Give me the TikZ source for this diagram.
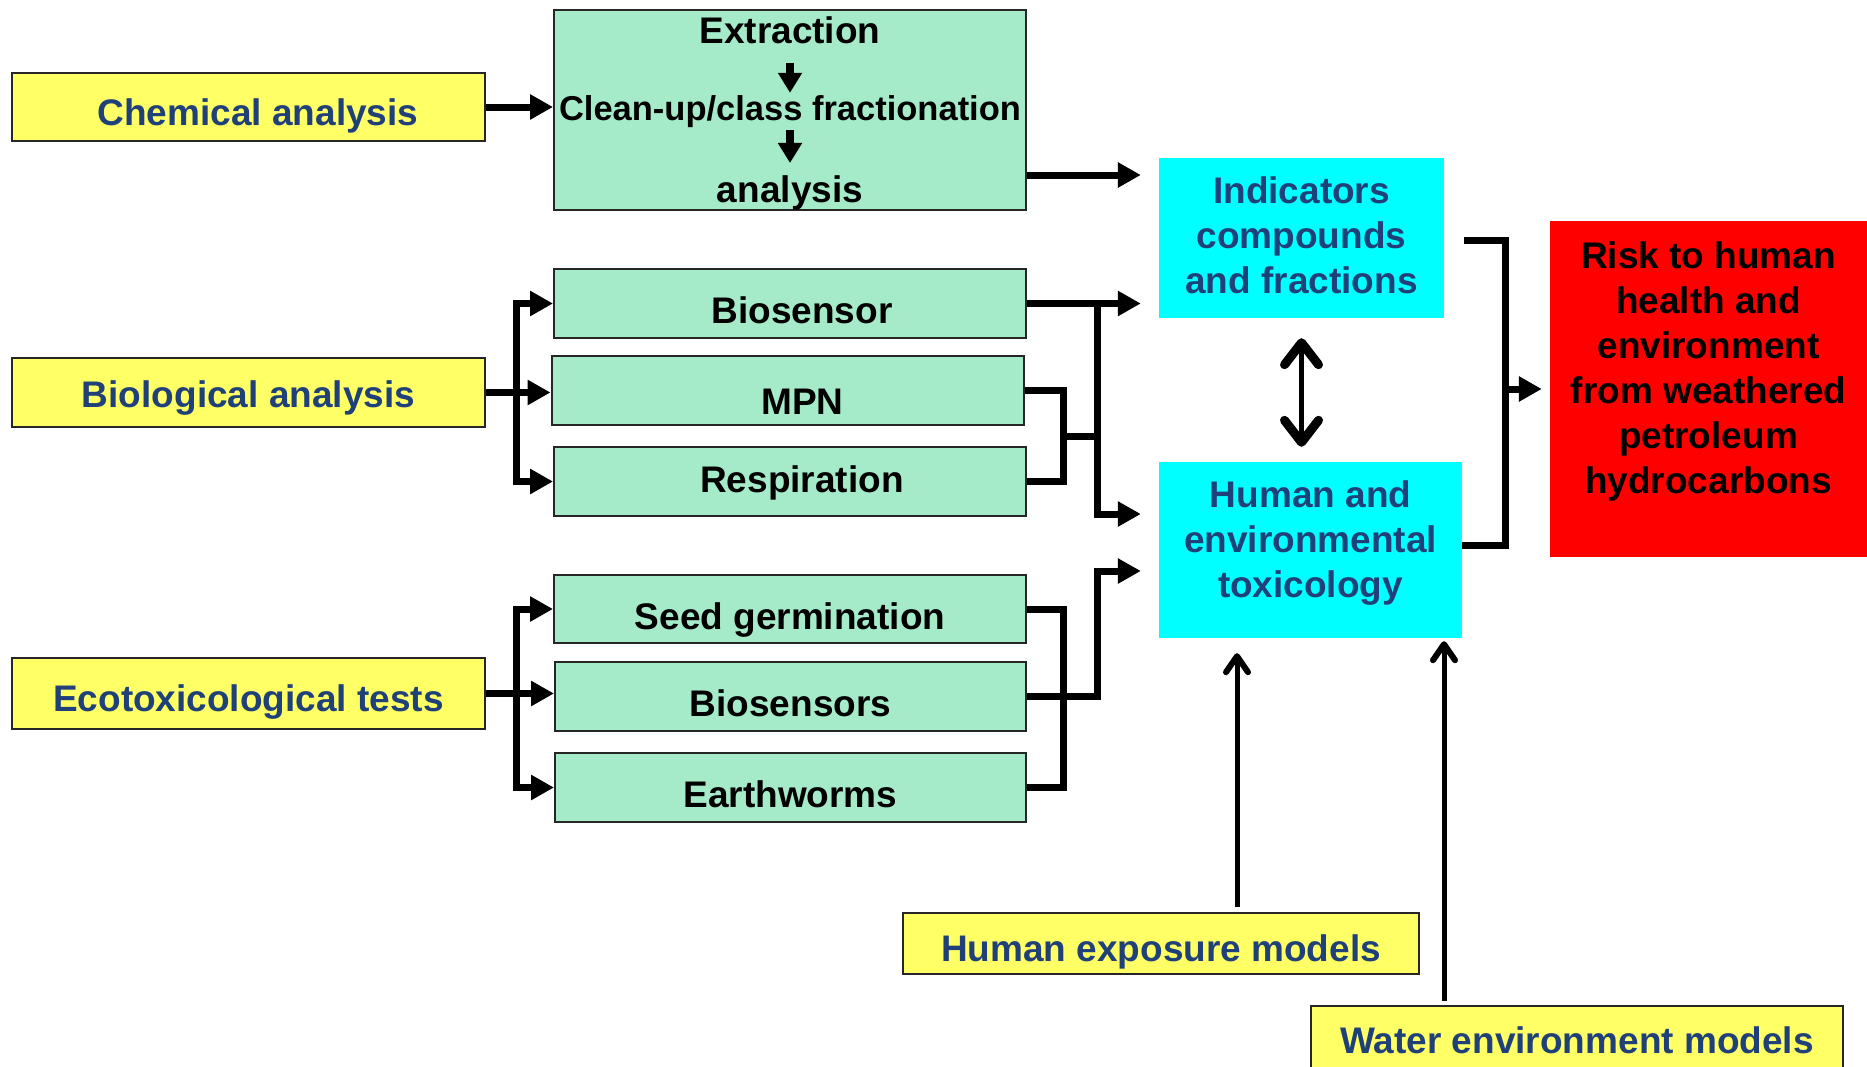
\documentclass[tikz,border=0pt]{standalone}
\usepackage{fontspec}
\setmainfont{Liberation Sans}
\usetikzlibrary{arrows.meta}
\definecolor{navy}{RGB}{31,64,120}
\definecolor{mint}{RGB}{166,235,201}
\definecolor{pale}{RGB}{255,255,102}
\definecolor{aqua}{RGB}{0,255,255}
\definecolor{alarm}{RGB}{255,0,0}

\begin{document}
\begin{tikzpicture}[x=1pt,y=-1pt,
  font=\bfseries\fontsize{37}{45}\selectfont,
  yellowbox/.style={draw=black!85, line width=2pt, fill=pale, text=navy,
    minimum width=473pt, inner sep=0pt, text height=36pt, text depth=0pt},
  greenbox/.style={draw=black!85, line width=2pt, fill=mint, minimum width=472pt,
    minimum height=69pt, inner sep=0pt, text height=40pt, text depth=0pt},
  cyanbox/.style={fill=aqua, text=navy, align=center, inner sep=0pt},
  steptext/.style={font=\bfseries\fontsize{37}{40}\selectfont, inner sep=0pt, anchor=base},
  flow/.style={line width=7pt, miter limit=10},
  arr/.style={flow, -{Triangle[length=23pt,width=24pt]}},
  smallarr/.style={line width=8pt, -{Triangle[length=20pt,width=23pt]}},
  dblarr/.style={line width=5pt,
    {Straight Barb[length=22pt,width=34pt,line width=9pt,round]}-{Straight Barb[length=22pt,width=34pt,line width=9pt,round]}},
  thinarr/.style={line width=5pt, -{Straight Barb[length=16pt,width=22pt,line width=6pt,round]}},
]
\useasboundingbox (0,0) rectangle (1867,1066);

% input boxes
\node[yellowbox, minimum height=68pt] (chem) at (248.5,107) {\hspace*{19pt}Chemical analysis};
\node[yellowbox, minimum height=69pt, text height=30pt] (bio) at (248.5,392.5) {Biological analysis};
\node[yellowbox, minimum height=71pt] (eco) at (248.5,693.5) {Ecotoxicological tests};

% chemical chain
\node[greenbox, minimum height=200pt] (chain) at (790,110) {};
\node[steptext] (extr) at (790,43) {Extraction};
\node[steptext, font=\bfseries\fontsize{34.5}{40}\selectfont] (clean) at (790,120) {Clean-up/class fractionation};
\node[steptext] (anl) at (790,202) {analysis};
\draw[smallarr, shorten <=19pt, shorten >=2pt] (extr) -- (clean);
\draw[smallarr, shorten <=3pt, shorten >=12pt] (clean) -- (anl);

% biological and ecotoxicological methods
\node[greenbox] (biosensor) at (790,303.5) {\hspace*{24pt}Biosensor};
\node[greenbox, text height=48pt] (mpn) at (787.5,390.5) {\hspace*{30pt}MPN};
\node[greenbox, text height=22pt] (resp) at (790,481.5) {\hspace*{24pt}Respiration};
\node[greenbox, minimum height=68pt] (seed) at (790,609) {Seed germination};
\node[greenbox, minimum width=471pt] (bsens) at (790.5,696.5) {Biosensors};
\node[greenbox, minimum width=471pt] (worms) at (790.5,787.5) {Earthworms};

% assessment boxes
\node[cyanbox, minimum width=285pt, minimum height=160pt] (ind) at (1301.5,238) {};
\node[text=navy, align=center, inner sep=0pt] (indtext) at ([yshift=2.5pt]ind.center)
  {Indicators\\compounds\\and fractions};
\node[cyanbox, minimum width=303pt, minimum height=176pt] (tox) at (1310.5,550) {};
\node[text=navy, align=center, inner sep=0pt] (toxtext) at ([yshift=7pt]tox.center)
  {Human and\\environmental\\toxicology};
\node[fill=alarm, minimum width=317pt, minimum height=336pt, inner sep=0pt] (risk) at (1708.5,389) {};
\node[align=center, inner sep=0pt] (risktext) at ([yshift=18pt]risk.center)
  {Risk to human\\health and\\environment\\from weathered\\petroleum\\hydrocarbons};

% model boxes
\node[yellowbox, minimum width=516pt, minimum height=61pt] (hexp) at (1161,943.5) {Human exposure models};
\node[yellowbox, minimum width=532pt, minimum height=68pt, text height=26pt] (water) at (1577,1040) {Water environment models};

% helper columns
\coordinate (bspine) at (516,0);
\coordinate (rsub) at (1063,0);
\coordinate (rjoin) at (1097,0);
\coordinate (bx) at (1505,0);
\coordinate (hx) at (1237,0);
\coordinate (wx) at (1444,0);

% chemical branch
\draw[arr] (chem.east) -- (chem.east -| chain.west);
\draw[arr, shorten >=18pt] (chain.east |- 0,175) -- (ind.west |- 0,175);

% biological branch
\draw[arr] (bio.east) -- (bio.east -| mpn.west);
\draw[arr] (bspine |- bio) -- (bspine |- biosensor) -- (biosensor.west);
\draw[arr] (bspine |- bio) -- (bspine |- resp) -- (resp.west);
\draw[arr, shorten >=18pt] (biosensor.east) -- (ind.west |- biosensor.east);
\draw[arr, shorten >=18pt] (rjoin |- biosensor.east) -- (rjoin |- 0,514) -- (tox.west |- 0,514);
\draw[flow] (mpn.east) -- (rsub |- mpn.east) -- (rsub |- resp.east) -- (resp.east);
\draw[flow] (rsub |- 0,436) -- (rjoin |- 0,436);

% ecotoxicological branch
\draw[arr] (eco.east) -- (eco.east -| bsens.west);
\draw[arr] (bspine |- eco) -- (bspine |- seed) -- (seed.west);
\draw[arr] (bspine |- eco) -- (bspine |- worms) -- (worms.west);
\draw[flow] (seed.east) -- (rsub |- seed.east) -- (rsub |- worms.east) -- (worms.east);
\draw[arr, shorten >=18pt] (bsens.east) -- (rjoin |- bsens.east) -- (rjoin |- 0,571) -- (tox.west |- 0,571);

% link between indicators and toxicology
\draw[dblarr, shorten <=20pt, shorten >=15pt] (ind.south) -- (ind.south |- tox.north);

% models feeding toxicology
\draw[thinarr, shorten <=5pt, shorten >=15pt] (hx |- hexp.north) -- (hx |- tox.south);
\draw[thinarr, shorten <=4pt, shorten >=3pt] (wx |- water.north) -- (wx |- tox.south);

% bracket towards risk
\draw[flow, shorten <=20pt] (ind.east |- 0,240) -- (bx |- 0,240) -- (bx |- 0,545) -- (tox.east |- 0,545);
\draw[arr, shorten >=8pt] (bx |- risk.west) -- (risk.west);
\end{tikzpicture}
\end{document}
